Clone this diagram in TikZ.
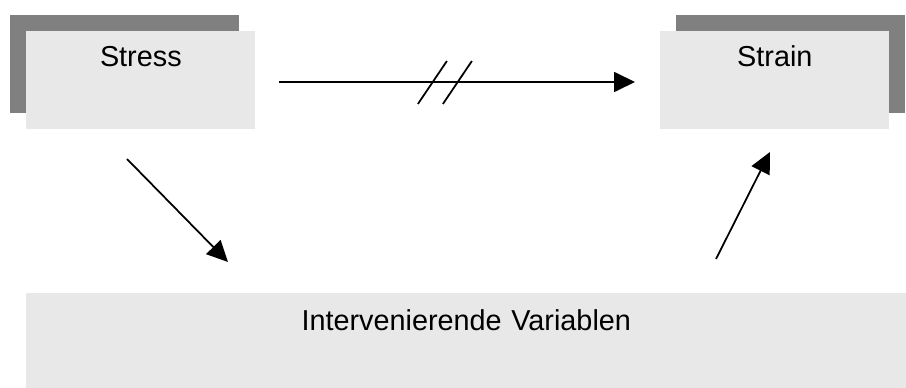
\documentclass[tikz,border=0pt]{standalone}
\usepackage{fontspec}
\setmainfont{Liberation Sans}
\usepackage{tikz}
\usetikzlibrary{arrows.meta,positioning,calc,shadows}
\definecolor{boxGray}{RGB}{232,232,232}
\definecolor{shadeGray}{RGB}{128,128,128}
\newcommand{\lbl}{\fontsize{16.4}{20}\selectfont}

\begin{document}
\begin{tikzpicture}[x=0.02cm,y=-0.02cm,
  panel/.style={fill=boxGray,anchor=north west,inner sep=0pt,text width=4.58cm,
    align=center,text height=0.7cm,text depth=1.26cm,font=\lbl},
  link/.style={line width=1pt,-{Triangle[length=0.42cm,width=0.4cm]}}]
  \useasboundingbox (0,0) rectangle (906,388);
  \node[panel,drop shadow={shadow xshift=-0.32cm,shadow yshift=0.32cm,fill=shadeGray,opacity=1}]
      (stress) at (26,31) {Stress};
  \node[panel,drop shadow={shadow xshift=0.32cm,shadow yshift=0.32cm,fill=shadeGray,opacity=1}]
      (strain) at (660,31) {Strain};
  \node[panel,text width=17.6cm,text height=0.74cm,text depth=1.16cm]
      (inter) at (26,293) {Intervenierende Variablen};
  \coordinate (h0) at (279,82);
  \coordinate (h1) at (635,82);
  \coordinate (d0) at (127,159);
  \coordinate (d1) at (228,262);
  \coordinate (u0) at (716,259);
  \coordinate (u1) at (770,152);
  \draw[link] (h0) -- coordinate[pos=0.466] (brk) (h1);
  \draw[line width=1pt] ($(brk)+(-27,22)$) -- ($(brk)+(2,-21)$)
      ($(brk)+(-2,22)$) -- ($(brk)+(27,-21)$);
  \draw[link] (d0) -- (d1);
  \draw[link] (u0) -- (u1);
\end{tikzpicture}
\end{document}
